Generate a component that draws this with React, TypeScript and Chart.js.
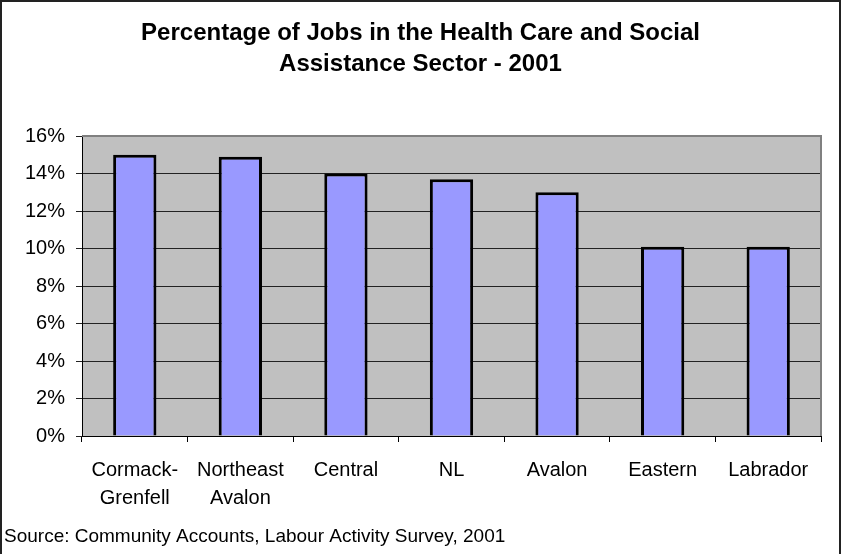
import React, { useEffect, useRef } from "react";
import { Chart, registerables } from "chart.js";

Chart.register(...registerables);

const TITLE_LINES = ["Percentage of Jobs in the Health Care and Social", "Assistance Sector - 2001"];
const SOURCE_TEXT = "Source: Community Accounts, Labour Activity Survey, 2001";
const CATEGORIES: (string | string[])[] = [
  ["Cormack-", "Grenfell"],
  ["Northeast", "Avalon"],
  "Central",
  "NL",
  "Avalon",
  "Eastern",
  "Labrador",
];
const VALUES = [15.0, 14.9, 14.0, 13.7, 13.0, 10.1, 10.1];
const Y_MIN = 0;
const Y_MAX = 16;
const Y_STEP = 2;

const FONT = "'Liberation Sans', Arial, sans-serif";

const framePlugin = {
  id: "frame",
  beforeDraw(chart: any) {
    const { ctx, chartArea } = chart;
    const { left, top, right, bottom } = chartArea;
    ctx.save();
    ctx.fillStyle = "#C0C0C0";
    ctx.fillRect(left, top, right - left, bottom - top);
    ctx.restore();
  },
  afterDraw(chart: any) {
    const { ctx, chartArea, width, height } = chart;
    const { left, top, right, bottom } = chartArea;
    ctx.save();
    ctx.strokeStyle = "#808080";
    ctx.lineWidth = 2;
    ctx.beginPath();
    ctx.moveTo(left, top);
    ctx.lineTo(right, top);
    ctx.lineTo(right, bottom);
    ctx.stroke();
    // outer border (top, left, right)
    ctx.strokeStyle = "#222";
    ctx.lineWidth = 2;
    ctx.beginPath();
    ctx.moveTo(1, height);
    ctx.lineTo(1, 1);
    ctx.lineTo(width - 1, 1);
    ctx.lineTo(width - 1, height);
    ctx.stroke();
    // source note
    ctx.fillStyle = "#000";
    ctx.font = `19px ${FONT}`;
    ctx.textAlign = "left";
    ctx.textBaseline = "middle";
    ctx.fillText(SOURCE_TEXT, 4, 537);
    ctx.restore();
  },
};

export default function App() {
  const ref = useRef<HTMLCanvasElement | null>(null);
  useEffect(() => {
    if (!ref.current) return;
    const chart = new Chart(ref.current, {
      type: "bar",
      data: {
        labels: CATEGORIES,
        datasets: [
          {
            data: VALUES,
            backgroundColor: "#9999FF",
            borderColor: "#000000",
            borderWidth: 3,
            categoryPercentage: 1,
            barPercentage: 0.41,
          },
        ],
      },
      options: {
        animation: false,
        responsive: false,
        maintainAspectRatio: false,
        layout: { autoPadding: false, padding: { left: 20, right: 20, top: 0, bottom: 0 } },
        plugins: {
          legend: { display: false },
          tooltip: { enabled: false },
          title: {
            display: true,
            text: TITLE_LINES,
            color: "#000",
            font: { family: FONT, size: 24, weight: "bold", lineHeight: 1.3 },
            padding: { top: 18, bottom: 55.6 },
          },
        },
        scales: {
          x: {
            afterFit: (s: any) => {
              s.height = 118;
            },
            grid: {
              offset: true,
              drawOnChartArea: false,
              drawTicks: true,
              tickLength: 6,
              color: "#000",
            },
            border: { display: true, color: "#000", width: 1 },
            ticks: {
              color: "#000",
              font: { family: FONT, size: 20, lineHeight: 1.4 },
              padding: 14,
              maxRotation: 0,
              autoSkip: false,
            },
          },
          y: {
            min: Y_MIN,
            max: Y_MAX,
            afterFit: (s: any) => {
              s.width = 62;
            },
            grid: {
              color: "#222",
              lineWidth: 1,
              drawTicks: true,
              tickLength: 6,
            },
            border: { display: true, color: "#000", width: 1 },
            ticks: {
              stepSize: Y_STEP,
              color: "#000",
              font: { family: FONT, size: 20 },
              padding: 11,
              callback: (v: any) => `${v}%`,
            },
          },
        },
      },
      plugins: [framePlugin],
    });
    return () => chart.destroy();
  }, []);
  return (
    <div style={{ position: "fixed", left: 0, top: 0, width: 841, height: 554, background: "#fff" }}>
      <canvas ref={ref} width={841} height={554} style={{ display: "block" }} />
    </div>
  );
}
